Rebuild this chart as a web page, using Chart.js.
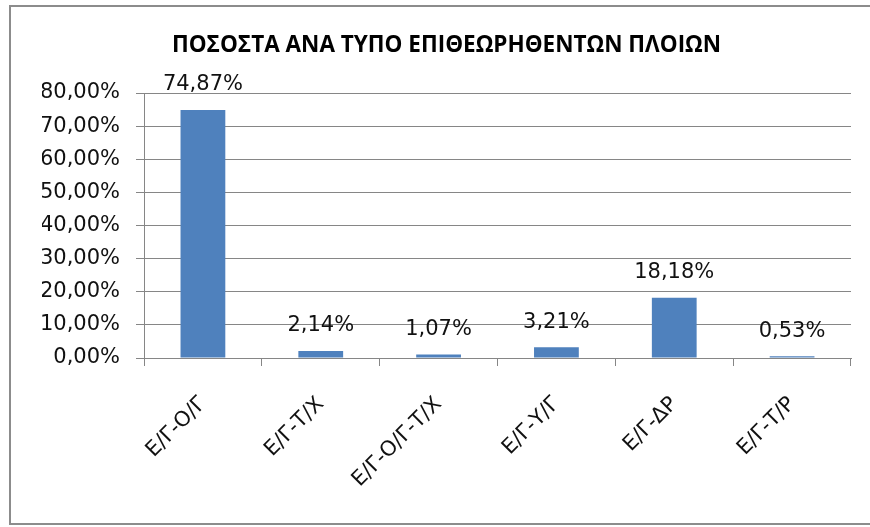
<!DOCTYPE html>
<html>
<head>
<meta charset="utf-8">
<script src="https://cdn.jsdelivr.net/npm/chart.js@4"></script>
<style>
  html, body { margin: 0; background: #fff; overflow: hidden; }
</style>
</head>
<body>
<canvas id="myChart" width="870" height="527"></canvas>
<script>
// data
var categories = ['Ε/Γ-Ο/Γ', 'Ε/Γ-Τ/Χ', 'Ε/Γ-Ο/Γ-Τ/Χ', 'Ε/Γ-Υ/Γ', 'Ε/Γ-ΔΡ', 'Ε/Γ-Τ/Ρ'];
var percentages = [74.87, 2.14, 1.07, 3.21, 18.18, 0.53];
var yTicks = [0, 10, 20, 30, 40, 50, 60, 70, 80];

const lineColor = '#868686';
const textFont = 'DejaVu Sans';

function fmt(v, d) {
    return v.toFixed(d).replace('.', ',') + '%';
}

// outer frame (right side is cut off in the original)
const frame = {
    id: 'frame',
    beforeDraw(chart) {
        const ctx = chart.ctx;
        ctx.save();
        ctx.strokeStyle = '#8c8c8c';
        ctx.lineWidth = 2;
        ctx.beginPath();
        ctx.moveTo(872, 6);
        ctx.lineTo(10, 6);
        ctx.lineTo(10, 524);
        ctx.lineTo(872, 524);
        ctx.stroke();
        ctx.restore();
    }
};

// labels above bars
const barLabels = {
    id: 'barLabels',
    afterDatasetsDraw(chart) {
        const ctx = chart.ctx;
        const meta = chart.getDatasetMeta(0);
        ctx.save();
        ctx.font = '21px "' + textFont + '"';
        ctx.fillStyle = '#111';
        ctx.textAlign = 'center';
        ctx.textBaseline = 'middle';
        meta.data.forEach(function (bar, i) {
            ctx.fillText(fmt(percentages[i], 2), bar.x, bar.y - 25);
        });
        ctx.restore();
    }
};

const myChart = document.getElementById('myChart');
new Chart(myChart, {
    type: 'bar',
    data: {
        labels: categories,
        datasets: [{
            data: percentages,
            backgroundColor: '#4f81bd',
            barPercentage: 0.38,
            categoryPercentage: 1
        }]
    },
    options: {
        responsive: false,
        animation: false,
        devicePixelRatio: 1,
        // left padding shifts the title centre to the right like the original
        layout: { padding: { left: 42, right: 19, top: 0, bottom: 0 } },
        plugins: {
            legend: { display: false },
            tooltip: { enabled: false },
            title: {
                display: true,
                text: 'ΠΟΣΟΣΤΑ ΑΝΑ ΤΥΠΟ ΕΠΙΘΕΩΡΗΘΕΝΤΩΝ ΠΛΟΙΩΝ',
                color: '#000',
                font: { family: 'Open Sans', size: 22.5, weight: 'bold' },
                padding: { top: 32, bottom: 34 }
            }
        },
        scales: {
            x: {
                afterFit: function (s) { s.height = 169; },
                grid: {
                    drawOnChartArea: false,
                    offset: true,
                    tickLength: 8,
                    color: lineColor
                },
                border: { color: lineColor },
                ticks: {
                    color: '#111',
                    font: { family: textFont, size: 21 },
                    minRotation: 45,
                    maxRotation: 45,
                    padding: 26
                }
            },
            y: {
                min: 0,
                max: 80,
                afterFit: function (s) { s.width = 102; },
                afterBuildTicks: function (s) {
                    s.ticks = yTicks.map(function (v) { return { value: v }; });
                },
                grid: { color: lineColor, tickLength: 8 },
                border: { color: lineColor },
                ticks: {
                    color: '#111',
                    font: { family: textFont, size: 21 },
                    padding: 16,
                    callback: function (v) { return fmt(v, 2); }
                }
            }
        }
    },
    plugins: [frame, barLabels]
});
</script>
</body>
</html>
